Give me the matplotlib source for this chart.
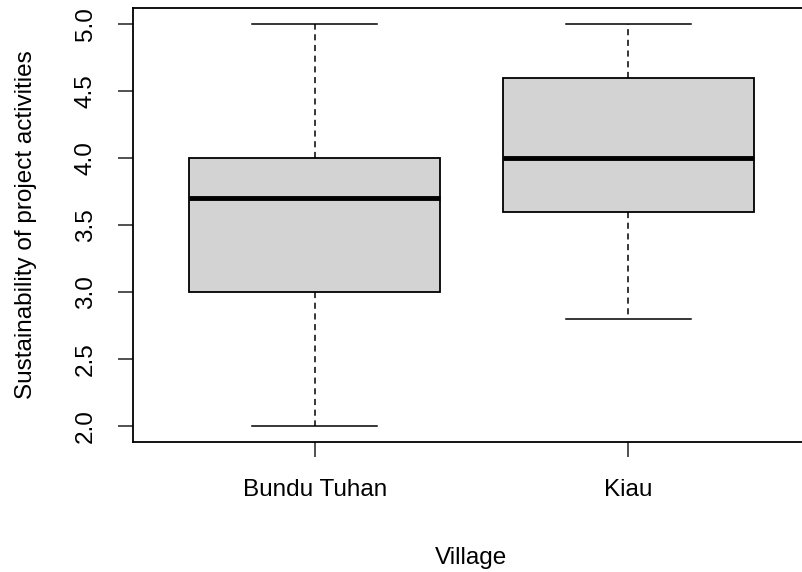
import matplotlib
matplotlib.use("Agg")
import matplotlib.pyplot as plt

plt.rcParams['font.family'] = ['Liberation Sans', 'DejaVu Sans']

villages = ["Bundu Tuhan", "Kiau"]
whislo = [2.0, 2.8]
q1 = [3.0, 3.6]
med = [3.7, 4.0]
q3 = [4.0, 4.6]
whishi = [5.0, 5.0]

stats = []
for i, v in enumerate(villages):
    stats.append(dict(label=v, whislo=whislo[i], q1=q1[i], med=med[i],
                      q3=q3[i], whishi=whishi[i], fliers=[]))

fig = plt.figure(figsize=(8.03, 5.72), dpi=100)
W, H = 803, 572
ax = fig.add_axes([133 / W, 1 - 442 / H, (810 - 133) / W, (442 - 8) / H])

ax.bxp(stats, positions=[1, 2], widths=0.8, patch_artist=True,
       boxprops=dict(facecolor='#d3d3d3', edgecolor='black', linewidth=1.3),
       medianprops=dict(color='black', linewidth=3.5, solid_capstyle='butt'),
       whiskerprops=dict(color='black', linewidth=1.1, linestyle=(0, (4, 3))),
       capprops=dict(color='black', linewidth=1.1),
       capwidths=0.4)

ax.set_xlim(0.42, 2.58)
ax.set_ylim(1.88, 5.12)
ax.set_yticks([2.0, 2.5, 3.0, 3.5, 4.0, 4.5, 5.0])
ax.set_yticklabels(["2.0", "2.5", "3.0", "3.5", "4.0", "4.5", "5.0"],
                   rotation=90, va='center')
ax.set_xticks([1, 2])
ax.set_xticklabels(villages)
ax.tick_params(axis='both', length=11, width=1.1, labelsize=17.5,
               colors='#222222', labelcolor='black')
ax.tick_params(axis='x', pad=16)
ax.tick_params(axis='y', pad=15)
for s in ax.spines.values():
    s.set_linewidth(1.3)

ax.set_xlabel("Village", fontsize=17.5, labelpad=33)
ax.set_ylabel("Sustainability of project activities", fontsize=17.5, labelpad=27)

fig.savefig("out.png", dpi=100)
